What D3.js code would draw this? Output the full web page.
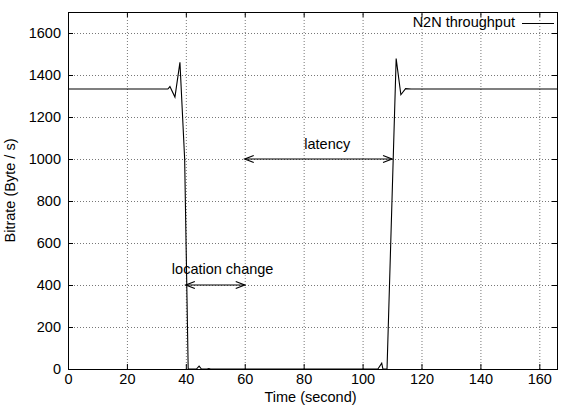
<!DOCTYPE html>
<html><head><meta charset="utf-8">
<script src="https://cdn.jsdelivr.net/npm/d3@7"></script>
<style>body{margin:0;background:#fff}svg{display:block}text{font-family:"Liberation Sans",Arial,sans-serif;font-size:14.5px;fill:#000}</style>
</head><body><svg id="c" width="566" height="406"></svg>
<script>
const timeSec = [0, 33.9, 34.6, 36.3, 38.0, 39.6, 40.8, 43.6, 44.5, 45.3, 47.2, 47.8, 48.4, 105.2, 106.5, 106.9, 108.3, 111.4, 113.0, 114.6, 116.5, 166];
const bitrate = [1333, 1333, 1345, 1295, 1460, 1000, 0, 0, 14, 0, 0, 2, 0, 0, 28, 0, 0, 1478, 1306, 1335, 1333, 1333];
const xTicks = [0, 20, 40, 60, 80, 100, 120, 140, 160];
const yTicks = [0, 200, 400, 600, 800, 1000, 1200, 1400, 1600];
const seriesName = "N2N throughput";
const annotations = [
  {label: "latency", x0: 60, x1: 110, y: 1000, lx: 88, ly: 1065},
  {label: "location change", x0: 40, x1: 60, y: 400, lx: 52.5, ly: 470}
];

const W = 566, H = 406, m = {l: 68, r: 9, t: 12, b: 37};
const FS = 14.5;
const svg = d3.select("#c");
const x = d3.scaleLinear().domain([0, 166]).range([m.l, W - m.r]);
const y = d3.scaleLinear().domain([0, 1700]).range([H - m.b, m.t]);

// grid
const g = svg.append("g");
g.selectAll(".gx").data(xTicks.filter(d => d > 0)).enter().append("line")
  .attr("x1", d => x(d) + 0.5).attr("x2", d => x(d) + 0.5)
  .attr("y1", y(0)).attr("y2", y(1700))
  .attr("stroke", "#777").attr("stroke-width", 1).attr("stroke-dasharray", "1,2");
g.selectAll(".gy").data(yTicks.filter(d => d > 0)).enter().append("line")
  .attr("y1", d => Math.round(y(d)) + 0.5).attr("y2", d => Math.round(y(d)) + 0.5)
  .attr("x1", x(0)).attr("x2", x(166))
  .attr("stroke", "#777").attr("stroke-width", 1).attr("stroke-dasharray", "1,2");

// axes (inward ticks, mirrored)
const ax = svg.append("g");
ax.append("g").attr("transform", `translate(0,${y(0)})`)
  .call(d3.axisBottom(x).tickValues(xTicks).tickSize(-5).tickPadding(5).tickFormat(d3.format("d")));
ax.append("g").attr("transform", `translate(0,${y(1700)})`)
  .call(d3.axisTop(x).tickValues(xTicks).tickSize(-5).tickFormat(""));
ax.append("g").attr("transform", `translate(${x(0)},0)`)
  .call(d3.axisLeft(y).tickValues(yTicks).tickSize(-5).tickPadding(7).tickFormat(d3.format("d")));
ax.append("g").attr("transform", `translate(${x(166)},0)`)
  .call(d3.axisRight(y).tickValues(yTicks).tickSize(-5).tickFormat(""));
ax.selectAll(".domain").remove();
ax.selectAll(".tick line").attr("stroke", "#000");
ax.selectAll("text").attr("font-size", FS).attr("font-family", "Liberation Sans, Arial, sans-serif");
svg.append("rect").attr("x", x(0) + 0.5).attr("y", y(1700) + 0.5)
  .attr("width", x(166) - x(0)).attr("height", y(0) - y(1700))
  .attr("fill", "none").attr("stroke", "#000").attr("stroke-width", 1);

// data line
const line = d3.line().x((d, i) => x(timeSec[i])).y(d => y(d));
svg.append("path").datum(bitrate).attr("d", line)
  .attr("fill", "none").attr("stroke", "#000").attr("stroke-width", 1.1);

// annotations with double arrows
function arrowHead(px, py, dir) {
  return `M${px + dir * 9},${py - 3.5}L${px},${py}L${px + dir * 9},${py + 3.5}`;
}
annotations.forEach(a => {
  const yy = y(a.y), xa = x(a.x0), xb = x(a.x1);
  svg.append("line").attr("x1", xa).attr("x2", xb).attr("y1", yy).attr("y2", yy)
    .attr("stroke", "#000").attr("stroke-width", 1.2);
  svg.append("path").attr("d", arrowHead(xa, yy, 1) + arrowHead(xb, yy, -1))
    .attr("fill", "none").attr("stroke", "#000").attr("stroke-width", 1.2);
  svg.append("text").attr("x", x(a.lx)).attr("y", y(a.ly)).attr("text-anchor", "middle")
    .attr("dominant-baseline", "middle").text(a.label);
});

// legend
svg.append("text").attr("x", 515).attr("y", 23).attr("text-anchor", "end")
  .attr("dominant-baseline", "middle").text(seriesName);
svg.append("line").attr("x1", 522).attr("x2", 554).attr("y1", 23.5).attr("y2", 23.5)
  .attr("stroke", "#000").attr("stroke-width", 1);

// axis titles
svg.append("text").attr("x", (x(0) + x(166)) / 2 - 2).attr("y", 402).attr("text-anchor", "middle")
  .text("Time (second)");
svg.append("text").attr("transform", `translate(11,${(y(0) + y(1700)) / 2}) rotate(-90)`)
  .attr("text-anchor", "middle").attr("dominant-baseline", "middle").text("Bitrate (Byte / s)");
</script></body></html>
